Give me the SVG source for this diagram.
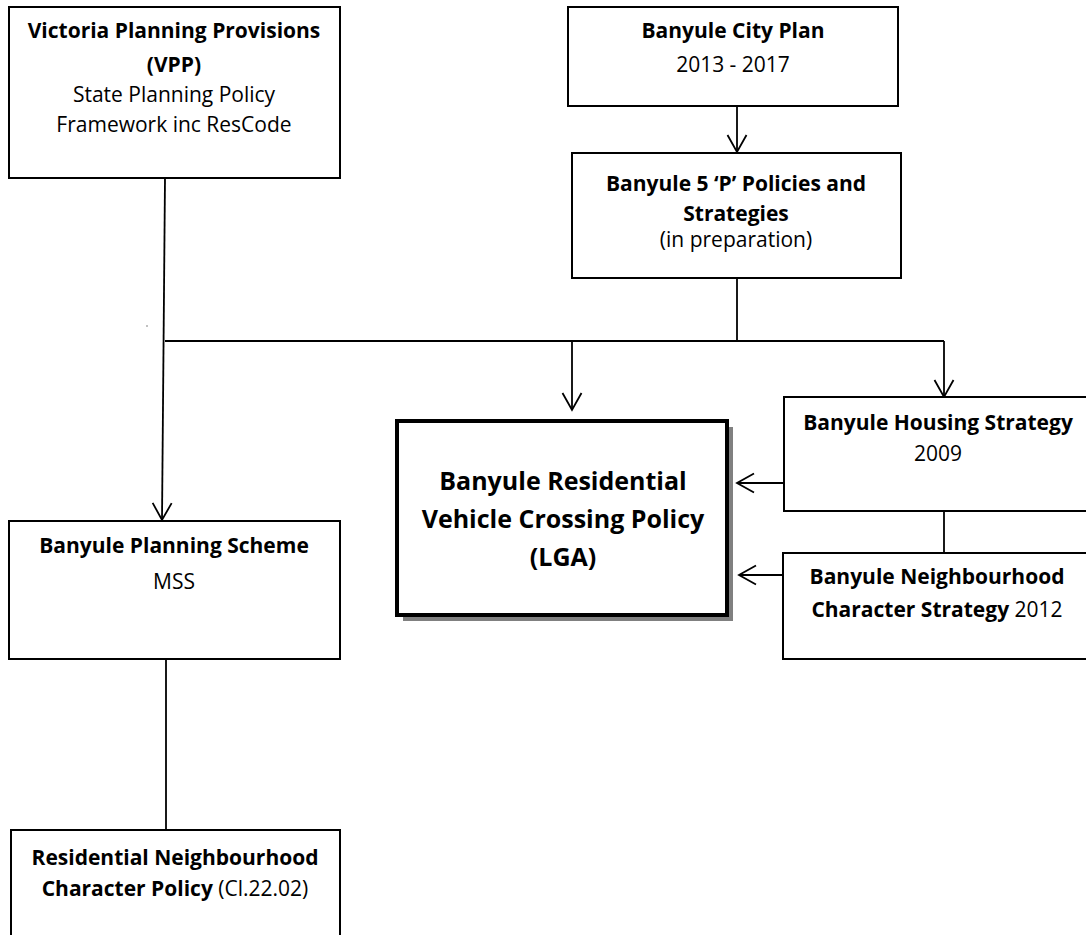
<svg xmlns="http://www.w3.org/2000/svg" width="1086" height="935" viewBox="0 0 1086 935">
  <style>
    .box { fill: #ffffff; stroke: #000000; stroke-width: 2; }
    .main { fill: #ffffff; stroke: #000000; stroke-width: 4; }
    .shadow { fill: #808080; stroke: none; }
    .conn { fill: none; stroke: #000000; stroke-width: 1.8; }
    text { font-family: "Open Sans", "Liberation Sans", sans-serif; font-size: 21px; fill: #000000; text-anchor: middle; }
    .b { font-weight: bold; }
    .big { font-size: 25px; font-weight: bold; }
  </style>
  <defs>
    <marker id="arr" markerUnits="userSpaceOnUse" markerWidth="40" markerHeight="40" viewBox="-20 -20 40 40" refX="0" refY="0" orient="auto" overflow="visible">
      <path d="M-17,-9.5 L0,0 L-17,9.5" fill="none" stroke="#000000" stroke-width="1.8"/>
    </marker>
  </defs>
  <rect width="1086" height="935" fill="#ffffff"/>

  <g id="connectors">
    <path class="conn" d="M165,178 L162,520" marker-end="url(#arr)"/>
    <path class="conn" d="M165,341 H944"/>
    <path class="conn" d="M737,106 V152" marker-end="url(#arr)"/>
    <path class="conn" d="M737,278 V341"/>
    <path class="conn" d="M572,341 V410" marker-end="url(#arr)"/>
    <path class="conn" d="M944,341 V397" marker-end="url(#arr)"/>
    <path class="conn" d="M784,483 H737" marker-end="url(#arr)"/>
    <path class="conn" d="M783,575 H739" marker-end="url(#arr)"/>
    <path class="conn" d="M944,511 V553"/>
    <path class="conn" d="M166,659 V830"/>
    <circle cx="147" cy="326" r="0.7" fill="#555555"/>
  </g>

  <g id="vpp">
    <rect class="box" x="9" y="7" width="331" height="171"/>
    <text class="b" x="174" y="38">Victoria Planning Provisions</text>
    <text class="b" x="174" y="72">(VPP)</text>
    <text x="174" y="102">State Planning Policy</text>
    <text x="174" y="132">Framework inc ResCode</text>
  </g>

  <g id="city-plan">
    <rect class="box" x="568" y="7" width="330" height="99"/>
    <text class="b" x="733" y="38">Banyule City Plan</text>
    <text x="733" y="72">2013 - 2017</text>
  </g>

  <g id="five-p">
    <rect class="box" x="572" y="153" width="329" height="125"/>
    <text class="b" x="736" y="191">Banyule 5 ‘P’ Policies and</text>
    <text class="b" x="736" y="221">Strategies</text>
    <text x="736" y="247">(in preparation)</text>
  </g>

  <g id="vehicle-crossing-policy">
    <rect class="shadow" x="403" y="427" width="330" height="194"/>
    <rect class="main" x="397" y="421" width="330" height="194"/>
    <text class="big" x="563" y="490">Banyule Residential</text>
    <text class="big" x="563" y="528">Vehicle Crossing Policy</text>
    <text class="big" x="563" y="566">(LGA)</text>
  </g>

  <g id="housing-strategy">
    <rect class="box" x="784" y="397" width="310" height="114"/>
    <text class="b" x="938" y="430">Banyule Housing Strategy</text>
    <text x="938" y="461">2009</text>
  </g>

  <g id="neighbourhood-strategy">
    <rect class="box" x="783" y="553" width="311" height="106"/>
    <text class="b" x="937" y="584">Banyule Neighbourhood</text>
    <text x="937" y="617"><tspan class="b">Character Strategy</tspan> 2012</text>
  </g>

  <g id="planning-scheme">
    <rect class="box" x="9" y="521" width="331" height="138"/>
    <text class="b" x="174" y="553">Banyule Planning Scheme</text>
    <text x="174" y="589">MSS</text>
  </g>

  <g id="residential-policy">
    <rect class="box" x="11" y="830" width="329" height="115"/>
    <text class="b" x="175" y="865">Residential Neighbourhood</text>
    <text x="175" y="896"><tspan class="b">Character Policy</tspan> (Cl.22.02)</text>
  </g>
</svg>
